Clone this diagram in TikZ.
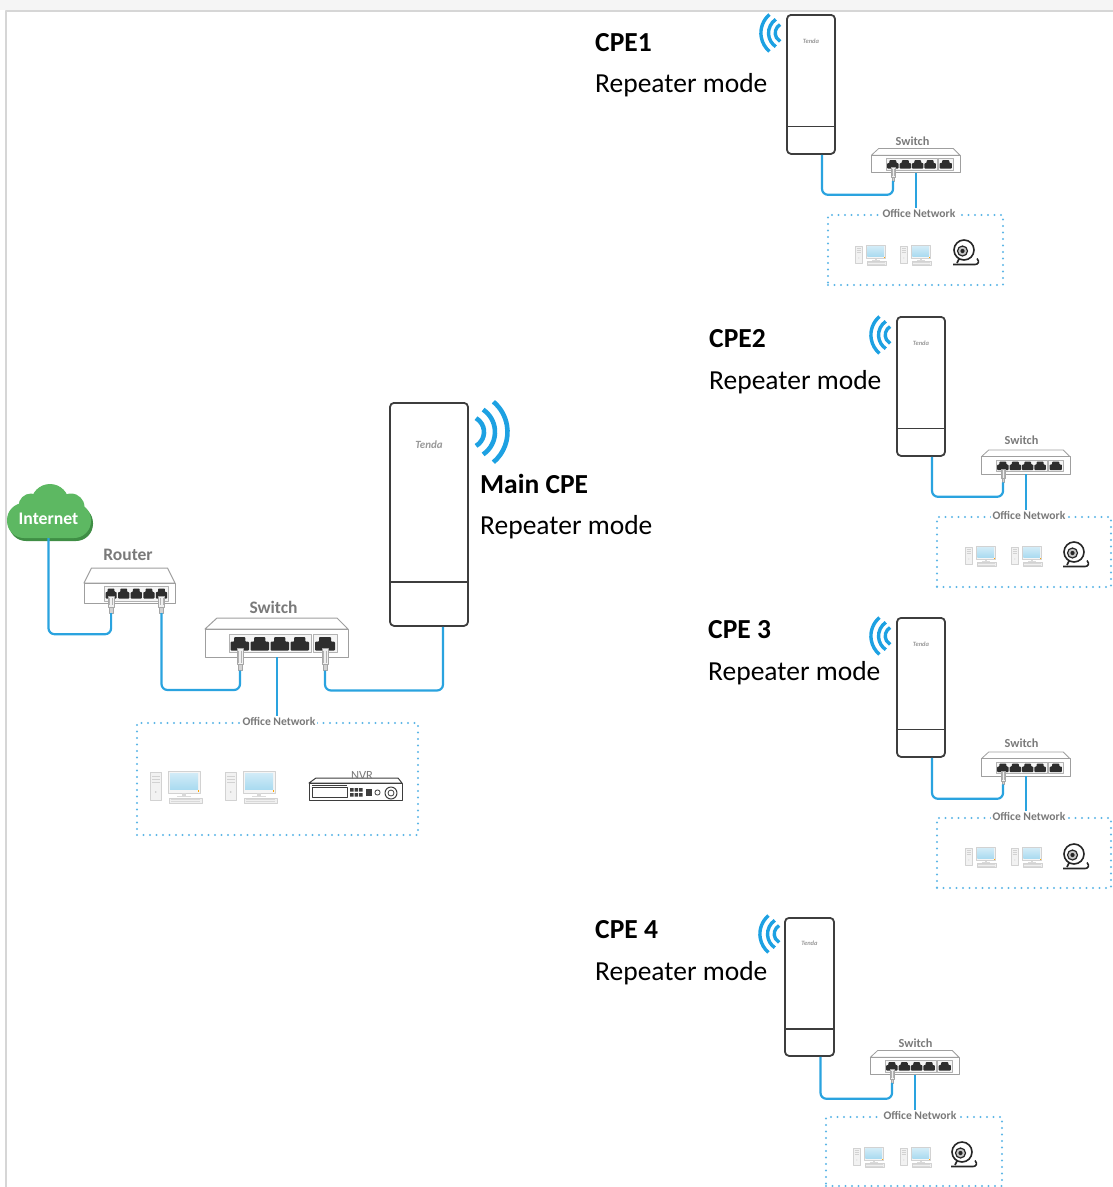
\documentclass[tikz,border=0pt]{standalone}
\usepackage{fontspec}
\setmainfont{Carlito}
\usetikzlibrary{calc}

\definecolor{cablec}{HTML}{2AA3DF}
\definecolor{wavec}{HTML}{1DA1E2}
\definecolor{dotc}{HTML}{5DB6E6}
\definecolor{edgec}{HTML}{3D3D3D}
\definecolor{labelc}{HTML}{7A7A7A}
\definecolor{cloudc}{HTML}{5DB862}
\definecolor{cloudd}{HTML}{3F8E45}
\definecolor{screenc}{HTML}{A9DAF0}
\definecolor{framec}{HTML}{D6D6D6}

% RJ45 socket: left x, top y, width, height
\newcommand\rjport[4]{%
  \fill[black!82, rounded corners=0.8pt] (#1,#2+#4) -- (#1,#2+0.35*#4) -- (#1+0.2*#3,#2+0.35*#4)
    -- (#1+0.2*#3,#2) -- (#1+0.8*#3,#2) -- (#1+0.8*#3,#2+0.35*#4) -- (#1+#3,#2+0.35*#4)
    -- (#1+#3,#2+#4) -- cycle;}
% RJ45 plug: centre x, top y, bottom y
\newcommand\rjplug[3]{%
  \draw[draw=gray!70, fill=gray!12, line width=.5pt] (#1-3,#2) rectangle (#1+3,#3-6);
  \draw[gray!60, line width=.4pt] (#1-1.5,#2+2) -- (#1-1.5,#3-8) (#1+1.5,#2+2) -- (#1+1.5,#3-8);
  \draw[draw=gray!70, fill=gray!35, line width=.5pt] (#1-2,#3-6) rectangle (#1+2,#3);}
% switch housing with four ports and one separate uplink port
\newcommand\switchhousing{%
  \draw[fill=white, draw=gray!75] (-72,-8.5) -- (-60,-19.5) -- (60,-19.5) -- (71,-8.5) -- cycle;
  \draw[fill=white, draw=gray!75] (-72,-8.5) rectangle (71,19.5);
  \draw[fill=gray!8, draw=gray!60, line width=.5pt] (-48,-3) rectangle (34,15);
  \foreach \i in {0,...,3}{\rjport{-46.5+20*\i}{-0.5}{18.5}{13.5}}
  \draw[fill=gray!8, draw=gray!60, line width=.5pt] (36,-3) rectangle (60,15);
  \rjport{38}{-0.5}{20}{13.5}
  \rjplug{-37}{11}{33}
  \coordinate (-pl1) at (-37,33);
  \coordinate (-c) at (0,19.5);}
% outdoor CPE: name, centre x, top y, width, height, logo size
\newcommand\cpedevice[6]{%
  \node[cpebody, minimum width=#4, minimum height=#5, anchor=north] (#1) at (#2,#3) {};
  \draw[edgec, line width=1.6pt] ($(#1.north west)!0.8!(#1.south west)$) -- ($(#1.north east)!0.8!(#1.south east)$);
  \node[logo=#6] (#1-logo) at ($(#1.north)!0.19!(#1.south)$) {Tenda};}
% radio waves: centre x, centre y, scale, style, side (0 = right, 180 = left)
\newcommand\radiowaves[5]{%
  \foreach \r/\a in {16/60,27/56,39.5/50}{
    \draw[#4] (#1,#2) ++(#5-\a:#3*\r pt) arc[start angle=#5-\a, end angle=#5+\a, radius=#3*\r pt];}}

\tikzset{
  cable/.style={cablec, line width=2.2pt, rounded corners=6pt},
  wave/.style={wavec, line width=4.6pt},
  swave/.style={wavec, line width=3.4pt},
  cpebody/.style={draw=edgec, line width=1.8pt, rounded corners=4pt, fill=white, inner sep=0pt},
  officebox/.style={draw=dotc, line width=2.3pt, dash pattern=on 0pt off 6.5pt, line cap=round, inner sep=0pt},
  officelbl/.style={fill=white, text=labelc, font=\fontsize{11.6}{12}\selectfont\bfseries, inner sep=1.5pt},
  titletext/.style={font=\fontsize{27.5}{30}\selectfont\bfseries, anchor=base west, inner sep=0pt},
  modetext/.style={font=\fontsize{27.5}{30}\selectfont, anchor=base west, inner sep=0pt},
  devlabel/.style={text=labelc, font=\fontsize{17.5}{18}\selectfont\bfseries, inner sep=0pt},
  sdevlabel/.style={text=labelc, font=\fontsize{12.3}{13}\selectfont\bfseries, inner sep=0pt},
  logo/.style={text=gray!80, font=\fontsize{#1}{#1}\selectfont\itshape\bfseries, inner sep=0pt},
  % switch with cables on port 1 and on the uplink port
  switchbox/.pic={
    \switchhousing
    \rjplug{48}{11}{33}
    \coordinate (-pl5) at (48,33);
  },
  % switch with a cable on port 1 only
  sswitchbox/.pic={\switchhousing},
  % five-port router
  routerbox/.pic={
    \draw[fill=white, draw=gray!75] (-45.5,-2) -- (-38,-17) -- (38,-17) -- (45.5,-2) -- cycle;
    \draw[fill=white, draw=gray!75] (-45.5,-2) rectangle (45.5,18);
    \draw[fill=gray!8, draw=gray!60, line width=.5pt] (-25.5,1.5) rectangle (38.5,16);
    \foreach \i in {0,...,4}{\rjport{-24+12.6*\i}{3.5}{11.2}{10}}
    \rjplug{-18.4}{11}{28}
    \rjplug{32}{11}{28}
    \coordinate (-pl1) at (-18.4,28);
    \coordinate (-pl5) at (32,28);
  },
  % desktop computer
  pcicon/.pic={
    \draw[fill=gray!10, draw=gray!35, line width=.6pt] (-26,-15) rectangle (-14.5,13);
    \draw[gray!35, line width=.6pt] (-24,-11) -- (-16.5,-11) (-24,-8) -- (-16.5,-8) (-24,-5) -- (-16.5,-5);
    \fill[gray!45] (-20.2,5) circle (0.9pt);
    \draw[fill=gray!8, draw=gray!35, line width=.6pt] (-8,-15.5) rectangle (24,6);
    \shade[top color=screenc!55!white, bottom color=screenc] (-6,-13.5) rectangle (22,2.5);
    \fill[orange!70!yellow] (21.5,3.3) rectangle (23.3,5.3);
    \fill[gray!30] (6,6) rectangle (10,9);
    \fill[gray!28] (1,9) rectangle (15,10.2);
    \draw[fill=gray!12, draw=gray!35, line width=.6pt] (-7,10.8) rectangle (26,16.5);
    \draw[gray!30, line width=.5pt] (-5,12.7) -- (24,12.7) (-5,14.6) -- (24,14.6);
  },
  % webcam
  camicon/.pic={
    \draw[black!85, line width=1.6pt] (-6,4) -- (-9,10);
    \draw[black!85, line width=1.6pt, rounded corners=2pt] (-13,11.5) -- (7,11.5) .. controls (12,11.5) and (14,9) .. (11,5.5);
    \draw[black!85, line width=1.6pt, fill=white] (-2,-3) circle (10pt);
    \draw[black!85, line width=1.2pt, fill=gray!45] (-3.5,-2) circle (5pt);
    \fill[black!85] (-3.5,-2) circle (2.1pt);
  },
}

\begin{document}
\begin{tikzpicture}[x=1pt, y=-1pt, line join=round]
\useasboundingbox (0,0) rectangle (1113,1187);

% page frame
\fill[black!4] (0,0) rectangle (1113,9.5);
\draw[framec, line width=2pt] (1113,11) -- (6,11) -- (6,1187);

% ---------------- main site ----------------
% Internet cloud with its shadow
\begin{scope}[shift={(2,3)}]
  \fill[cloudd, rounded corners=17pt] (7,503) rectangle (91,538);
\end{scope}
\fill[cloudc, rounded corners=17pt] (7,503) rectangle (91,538);
\fill[cloudc] (50,503) circle (19pt) (31,506) circle (12.5pt) (71,507) circle (13.5pt);
\node[minimum width=84, minimum height=38, inner sep=0pt, text=white,
      font=\fontsize{17.7}{18}\selectfont\bfseries] (inet) at (48.5,519) {Internet};

% router and switch
\pic[line width=1pt] (rt) at (129.5,585) {routerbox};
\node[devlabel] (rtlbl) at (128,555) {Router};
\pic[line width=1pt] (sw) at (277,637.5) {switchbox};
\node[devlabel] (swlbl) at (273.5,607) {Switch};

% main CPE
\cpedevice{cpe0}{429}{402}{78}{223}{11}
\radiowaves{468}{432}{1}{wave}{0}
\node[titletext] (cpe0t) at (480,493) {Main CPE};
\node[modetext] (cpe0m) at (480,534) {Repeater mode};

% office network of the main site
\node[officebox, minimum width=281, minimum height=112] (o0) at (277.5,779) {};
\node[officelbl] (o0l) at ([xshift=1.5pt]o0.north) {Office Network};
\pic (o0pc1) at (176,787) {pcicon};
\pic (o0pc2) at (251,787) {pcicon};
% NVR
\draw[edgec, line width=1pt, fill=white] (309,783) -- (316,778) -- (398,778) -- (402,783) -- cycle;
\draw[edgec, line width=1pt, fill=white] (309,783) rectangle (402,800);
\draw[edgec, line width=.7pt] (312,787) rectangle (347,797) (312,785) -- (347,785);
\foreach \xx in {350,354.5,359}{\fill[edgec] (\xx,788) rectangle ++(3.5,3.5) (\xx,793) rectangle ++(3.5,3.5);}
\fill[edgec] (366,789) rectangle (372,796);
\draw[edgec, line width=.8pt] (377.5,792.5) circle (2.6pt);
\draw[edgec, line width=1pt] (391,793) circle (6pt);
\draw[edgec, line width=.8pt] (391,793) circle (3pt);
\node[text=labelc, font=\fontsize{12.5}{13}\selectfont, inner sep=0pt] (nvrlbl) at (362,775) {NVR};

% main site cabling
\draw[cable] (inet.south) -- ++(0,96) -| (rt-pl1);
\draw[cable] (rt-pl5) -- ++(0,77) -| (sw-pl1);
\draw[cable] (sw-pl5) -- ++(0,20) -| ([xshift=14pt]cpe0.south);
\draw[cable, rounded corners=0pt] (sw-c) -- (sw-c |- o0l.north);

% ---------------- remote sites ----------------
% CPE1
\cpedevice{cpe1}{811}{14}{48}{139}{6.5}
\radiowaves{785}{33}{0.61}{swave}{180}
\node[titletext] (cpe1t) at (595,51) {CPE1};
\node[modetext] (cpe1m) at (595,92) {Repeater mode};
\pic[scale=0.62, line width=.8pt] (s1) at (916,160.5) {sswitchbox};
\node[sdevlabel] (s1l) at (912.5,141) {Switch};
\node[officebox, minimum width=175, minimum height=70] (o1) at (915.5,250) {};
\node[officelbl] (o1l) at ([xshift=3.5pt]o1.north) {Office Network};
\pic[scale=0.6] (o1pc1) at (871,255) {pcicon};
\pic[scale=0.6] (o1pc2) at (916,255) {pcicon};
\pic (o1cam) at (966,253) {camicon};
\draw[cable] ([xshift=11pt]cpe1.south) -- ++(0,40) -| (s1-pl1);
\draw[cable, rounded corners=0pt] (s1-c) -- (s1-c |- o1l.north);

% CPE2
\cpedevice{cpe2}{921}{316}{48}{139}{6.5}
\radiowaves{895}{335}{0.61}{swave}{180}
\node[titletext] (cpe2t) at (709,347) {CPE2};
\node[modetext] (cpe2m) at (709,389) {Repeater mode};
\pic[scale=0.62, line width=.8pt] (s2) at (1026,462) {sswitchbox};
\node[sdevlabel] (s2l) at (1021.5,440) {Switch};
\node[officebox, minimum width=174, minimum height=70] (o2) at (1024,552) {};
\node[officelbl] (o2l) at ([xshift=5pt]o2.north) {Office Network};
\pic[scale=0.6] (o2pc1) at (981,556) {pcicon};
\pic[scale=0.6] (o2pc2) at (1027,556) {pcicon};
\pic (o2cam) at (1076,555) {camicon};
\draw[cable] ([xshift=11pt]cpe2.south) -- ++(0,40) -| (s2-pl1);
\draw[cable, rounded corners=0pt] (s2-c) -- (s2-c |- o2l.north);

% CPE 3
\cpedevice{cpe3}{921}{617}{48}{139}{6.5}
\radiowaves{895}{636}{0.61}{swave}{180}
\node[titletext] (cpe3t) at (708,638) {CPE 3};
\node[modetext] (cpe3m) at (708,680) {Repeater mode};
\pic[scale=0.62, line width=.8pt] (s3) at (1026,764) {sswitchbox};
\node[sdevlabel] (s3l) at (1021.5,743) {Switch};
\node[officebox, minimum width=174, minimum height=70] (o3) at (1024,853) {};
\node[officelbl] (o3l) at ([xshift=5pt]o3.north) {Office Network};
\pic[scale=0.6] (o3pc1) at (981,857) {pcicon};
\pic[scale=0.6] (o3pc2) at (1027,857) {pcicon};
\pic (o3cam) at (1076,857) {camicon};
\draw[cable] ([xshift=11pt]cpe3.south) -- ++(0,41) -| (s3-pl1);
\draw[cable, rounded corners=0pt] (s3-c) -- (s3-c |- o3l.north);

% CPE 4
\cpedevice{cpe4}{809.5}{917}{49}{138}{6.5}
\radiowaves{784}{934}{0.61}{swave}{180}
\node[titletext] (cpe4t) at (595,938) {CPE 4};
\node[modetext] (cpe4m) at (595,980) {Repeater mode};
\pic[scale=0.62, line width=.8pt] (s4) at (915,1062.5) {sswitchbox};
\node[sdevlabel] (s4l) at (915.5,1043) {Switch};
\node[officebox, minimum width=176, minimum height=69] (o4) at (914,1151.5) {};
\node[officelbl] (o4l) at ([xshift=6pt]o4.north) {Office Network};
\pic[scale=0.6] (o4pc1) at (869,1157) {pcicon};
\pic[scale=0.6] (o4pc2) at (916,1157) {pcicon};
\pic (o4cam) at (964,1155) {camicon};
\draw[cable] ([xshift=11pt]cpe4.south) -- ++(0,42) -| (s4-pl1);
\draw[cable, rounded corners=0pt] (s4-c) -- (s4-c |- o4l.north);
\end{tikzpicture}
\end{document}
